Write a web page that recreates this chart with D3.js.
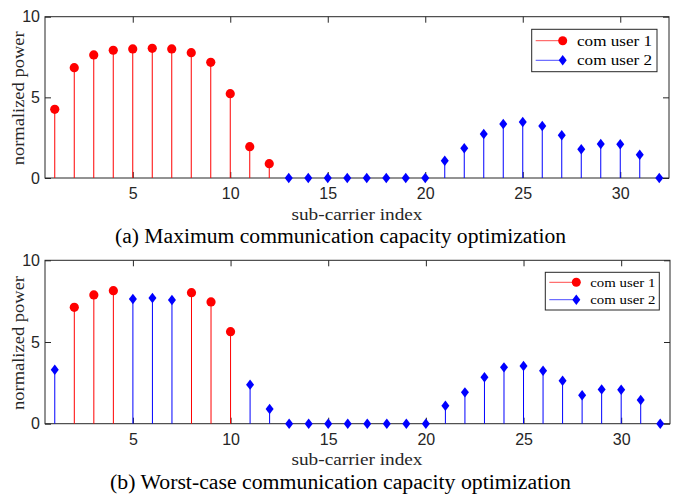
<!DOCTYPE html>
<html>
<head>
<meta charset="utf-8">
<script src="https://cdn.jsdelivr.net/npm/d3@7"></script>
<style>
  body { margin: 0; background: #fff; }
  svg { display: block; font-family: "Liberation Serif", "DejaVu Serif", serif; }
  .tick text { fill: #262626; font-size: 16px; }
  .tick line { stroke: #262626; }
</style>
</head>
<body>
<svg id="chart" width="676" height="496"></svg>
<script>
// sub-carrier values
var xTicks = [5, 10, 15, 20, 25, 30];
var yTicks = [0, 5, 10];
var legendNames = ['com user 1', 'com user 2'];

// (a) maximum capacity
var a_user1_idx = [1, 2, 3, 4, 5, 6, 7, 8, 9, 10, 11, 12];
var a_user1_val = [4.26, 6.84, 7.63, 7.92, 8.00, 8.04, 8.00, 7.77, 7.17, 5.23, 1.94, 0.89];
var a_user2_idx = [13, 14, 15, 16, 17, 18, 19, 20, 21, 22, 23, 24, 25, 26, 27, 28, 29, 30, 31, 32];
var a_user2_val = [0, 0, 0, 0, 0, 0, 0, 0, 1.07, 1.84, 2.73, 3.35, 3.47, 3.22, 2.65, 1.78, 2.11, 2.09, 1.44, 0];

// (b) worst-case capacity
var b_user1_idx = [2, 3, 4, 8, 9, 10];
var b_user1_val = [7.12, 7.88, 8.14, 8.02, 7.45, 5.63];
var b_user2_idx = [1, 5, 6, 7, 11, 12, 13, 14, 15, 16, 17, 18, 19, 20, 21, 22, 23, 24, 25, 26, 27, 28, 29, 30, 31, 32];
var b_user2_val = [3.30, 7.63, 7.69, 7.57, 2.39, 0.90, 0, 0, 0, 0, 0, 0, 0, 0, 1.10, 1.92, 2.84, 3.45, 3.53, 3.24, 2.63, 1.74, 2.10, 2.08, 1.45, 0];

var captions = ['(a) Maximum communication capacity optimization',
                '(b) Worst-case communication capacity optimization'];

var svg = d3.select('#chart');
svg.append('rect').attr('width', 676).attr('height', 496).attr('fill', '#fff');

var red = '#ff0000', blue = '#0000ff';
// matlab-ish diamond, 8 wide x 10 tall
var diamondType = {
  draw: function(ctx) {
    ctx.moveTo(0, -5.2); ctx.lineTo(4, 0); ctx.lineTo(0, 5.2); ctx.lineTo(-4, 0); ctx.closePath();
  }
};
var diamond = d3.symbol().type(diamondType);

function zip(idx, val) {
  return idx.map(function(d, i) { return {x: d, y: val[i]}; });
}

function drawPanel(opt) {
  var x = d3.scaleLinear().domain([0.5, 32.5]).range([opt.left, opt.right]);
  var y = d3.scaleLinear().domain([0, 10]).range([opt.bottom, opt.top]);
  var g = svg.append('g');

  // ticks (inside, box on)
  g.append('g').attr('transform', 'translate(0,' + opt.bottom + ')')
    .call(d3.axisBottom(x).tickValues(xTicks).tickSize(-6).tickPadding(10))
    .call(function(s) { s.select('.domain').remove(); });
  g.append('g').attr('transform', 'translate(0,' + opt.top + ')')
    .call(d3.axisTop(x).tickValues(xTicks).tickSize(-6).tickFormat(''))
    .call(function(s) { s.select('.domain').remove(); });
  g.append('g').attr('transform', 'translate(' + opt.left + ',0)')
    .call(d3.axisLeft(y).tickValues(yTicks).tickSize(-6).tickPadding(5))
    .call(function(s) { s.select('.domain').remove(); });
  g.append('g').attr('transform', 'translate(' + opt.right + ',0)')
    .call(d3.axisRight(y).tickValues(yTicks).tickSize(-6).tickFormat(''))
    .call(function(s) { s.select('.domain').remove(); });

  g.append('rect')
    .attr('x', opt.left).attr('y', opt.top)
    .attr('width', opt.right - opt.left).attr('height', opt.bottom - opt.top)
    .attr('fill', 'none').attr('stroke', '#262626').attr('stroke-width', 1);

  // stems
  [{data: opt.u1, color: red}, {data: opt.u2, color: blue}].forEach(function(s) {
    g.selectAll(null).data(s.data.filter(function(d) { return d.y > 0; })).enter().append('line')
      .attr('x1', function(d) { return x(d.x); }).attr('x2', function(d) { return x(d.x); })
      .attr('y1', y(0)).attr('y2', function(d) { return y(d.y); })
      .attr('stroke', s.color).attr('stroke-width', 1);
  });
  g.selectAll(null).data(opt.u1).enter().append('circle')
    .attr('cx', function(d) { return x(d.x); }).attr('cy', function(d) { return y(d.y); })
    .attr('r', 4.6).attr('fill', red);
  g.selectAll(null).data(opt.u2).enter().append('path')
    .attr('d', diamond)
    .attr('transform', function(d) { return 'translate(' + x(d.x) + ',' + y(d.y) + ')'; })
    .attr('fill', blue);

  // axis labels
  g.append('text')
    .attr('x', 357).attr('y', opt.bottom + 41.5)
    .attr('text-anchor', 'middle').attr('fill', '#262626').attr('font-size', 16)
    .attr('textLength', 131).attr('lengthAdjust', 'spacingAndGlyphs')
    .text('sub-carrier index');
  g.append('text')
    .attr('transform', 'translate(24,' + ((opt.top + opt.bottom) / 2 + 1) + ') rotate(-90)')
    .attr('text-anchor', 'middle').attr('fill', '#262626').attr('font-size', 17)
    .attr('textLength', 134).attr('lengthAdjust', 'spacingAndGlyphs')
    .text('normalized power');

  // caption
  g.append('text')
    .attr('x', opt.capX).attr('y', opt.bottom + 65)
    .attr('text-anchor', 'middle').attr('fill', '#000').attr('font-size', 20)
    .attr('textLength', opt.capW).attr('lengthAdjust', 'spacingAndGlyphs')
    .text(opt.caption);

  // legend
  var L = opt.legend;
  var lg = g.append('g');
  lg.append('rect').attr('x', L.x).attr('y', L.y).attr('width', L.w).attr('height', L.h)
    .attr('fill', '#fff').attr('stroke', '#262626').attr('stroke-width', 1);
  legendNames.forEach(function(name, i) {
    var cy = L.y + L.pad + i * L.gap;
    var col = i === 0 ? red : blue;
    lg.append('line').attr('x1', L.x + 4).attr('x2', L.x + 4 + L.line)
      .attr('y1', cy).attr('y2', cy).attr('stroke', col).attr('stroke-width', 1).attr('opacity', 0.7);
    if (i === 0) {
      lg.append('circle').attr('cx', L.x + 4 + L.line).attr('cy', cy).attr('r', 4.5).attr('fill', red);
    } else {
      lg.append('path').attr('d', diamond)
        .attr('transform', 'translate(' + (L.x + 4 + L.line) + ',' + cy + ')')
        .attr('fill', blue);
    }
    lg.append('text').attr('x', L.tx).attr('y', cy + L.fs * 0.33)
      .attr('font-size', L.fs).attr('fill', '#000')
      .attr('textLength', L.tw).attr('lengthAdjust', 'spacingAndGlyphs')
      .text(name);
  });
}

drawPanel({
  left: 45, right: 669, top: 16.7, bottom: 178,
  u1: zip(a_user1_idx, a_user1_val), u2: zip(a_user2_idx, a_user2_val),
  caption: captions[0], capX: 340.5, capW: 451,
  legend: {x: 531.7, y: 29.3, w: 125.3, h: 42.4, pad: 11.4, gap: 19.6, line: 27, tx: 577, fs: 15.5, tw: 75}
});
drawPanel({
  left: 45, right: 670, top: 260.3, bottom: 423.7,
  u1: zip(b_user1_idx, b_user1_val), u2: zip(b_user2_idx, b_user2_val),
  caption: captions[1], capX: 340.5, capW: 461,
  legend: {x: 545.3, y: 272.3, w: 114, h: 37.7, pad: 10, gap: 17.4, line: 27, tx: 590.3, fs: 13.5, tw: 65}
});
</script>
</body>
</html>
